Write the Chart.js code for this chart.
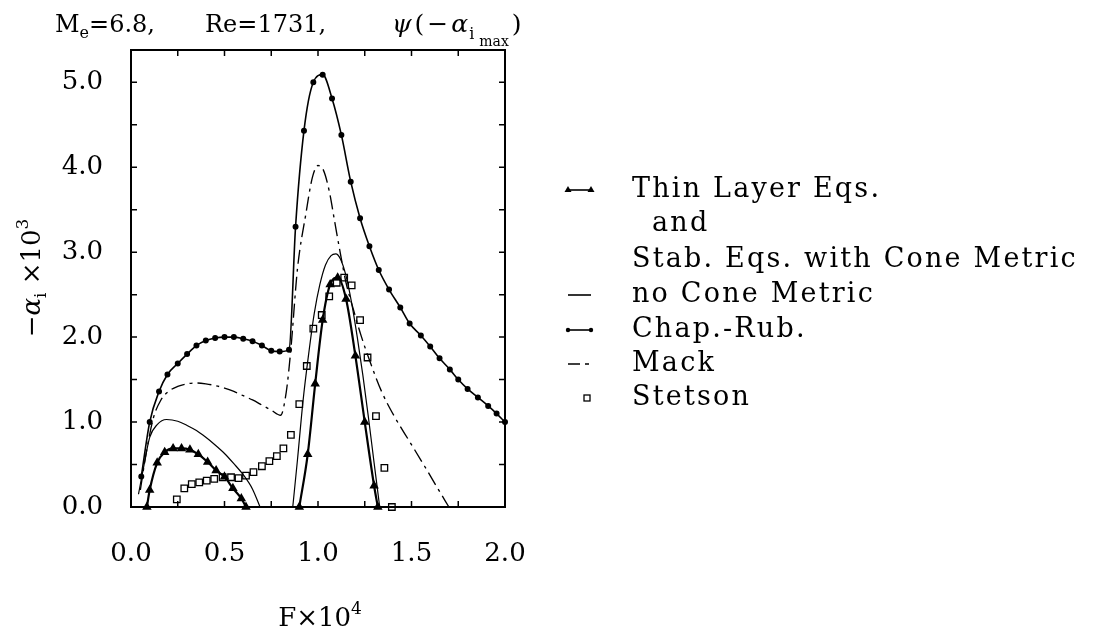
<!DOCTYPE html>
<html>
<head>
<meta charset="utf-8">
<title>Growth rate vs frequency</title>
<script src="https://cdn.jsdelivr.net/npm/chart.js@4/dist/chart.umd.min.js"></script>
<style>
  html, body { margin: 0; padding: 0; background: #fff; }
  #wrap { width: 1093px; height: 633px; }
</style>
</head>
<body>
<div id="wrap"><canvas id="growth" width="1093" height="633"></canvas></div>
<script>
// axis ticks
const xTicks = [0, 0.5, 1.0, 1.5, 2.0];
const yTicks = [0, 1, 2, 3, 4, 5];

// Thin layer eqs. (and stab. eqs. with cone metric), two branches
const thinLowF = [0.085, 0.10, 0.14, 0.18, 0.225, 0.27, 0.315, 0.36, 0.41, 0.455, 0.50, 0.545, 0.59, 0.615];
const thinLowA = [0.0, 0.20, 0.52, 0.645, 0.69, 0.69, 0.675, 0.62, 0.53, 0.43, 0.355, 0.22, 0.10, 0.0];
const thinHighF = [0.90, 0.945, 0.985, 1.025, 1.065, 1.105, 1.15, 1.20, 1.25, 1.30, 1.32];
const thinHighA = [0.0, 0.62, 1.45, 2.20, 2.62, 2.70, 2.45, 1.78, 1.00, 0.25, 0.0];

// no cone metric, two branches
const noConeLowF = [0.04, 0.07, 0.10, 0.14, 0.19, 0.25, 0.30, 0.35, 0.40, 0.45, 0.50, 0.55, 0.60, 0.65, 0.69];
const noConeLowA = [0.15, 0.50, 0.82, 0.97, 1.03, 1.01, 0.96, 0.90, 0.82, 0.73, 0.63, 0.51, 0.38, 0.21, 0.0];
const noConeHighF = [0.865, 0.89, 0.92, 0.95, 0.98, 1.01, 1.04, 1.07, 1.095, 1.12, 1.15, 1.18, 1.21, 1.24, 1.27, 1.30, 1.33];
const noConeHighA = [0.0, 0.55, 1.25, 1.80, 2.28, 2.62, 2.85, 2.96, 2.98, 2.92, 2.72, 2.40, 2.00, 1.55, 1.05, 0.52, 0.0];

// Chapman-Rubesin
const chapF = [0.055, 0.10, 0.15, 0.195, 0.25, 0.30, 0.35, 0.40, 0.45, 0.50, 0.55, 0.60, 0.65, 0.70, 0.75, 0.795, 0.845,
               0.88, 0.925, 0.975, 1.025, 1.075, 1.125, 1.175, 1.225, 1.275, 1.325, 1.38, 1.44, 1.49, 1.55, 1.60, 1.65,
               1.705, 1.75, 1.80, 1.855, 1.91, 1.955, 2.0];
const chapA = [0.36, 1.00, 1.36, 1.56, 1.69, 1.80, 1.90, 1.96, 1.99, 2.00, 2.00, 1.98, 1.95, 1.90, 1.84, 1.83, 1.85,
               3.30, 4.43, 5.00, 5.09, 4.81, 4.38, 3.83, 3.40, 3.07, 2.79, 2.56, 2.35, 2.16, 2.02, 1.89, 1.75,
               1.62, 1.50, 1.39, 1.29, 1.19, 1.10, 1.00];

// Mack
const mackF = [0.05, 0.08, 0.12, 0.16, 0.20, 0.25, 0.30, 0.35, 0.40, 0.45, 0.50, 0.55, 0.60, 0.65, 0.70, 0.75, 0.80,
               0.83, 0.855, 0.89, 0.935, 0.97, 1.00, 1.03, 1.06, 1.09, 1.12, 1.15, 1.19, 1.23, 1.28, 1.34, 1.41,
               1.49, 1.57, 1.64, 1.70];
const mackA = [0.20, 0.62, 1.05, 1.26, 1.36, 1.42, 1.45, 1.46, 1.45, 1.43, 1.40, 1.36, 1.31, 1.26, 1.20, 1.14, 1.08,
               1.35, 1.86, 2.80, 3.45, 3.88, 4.02, 3.96, 3.72, 3.35, 2.98, 2.64, 2.32, 2.02, 1.70, 1.36, 1.06,
               0.77, 0.48, 0.22, 0.0];

// Stetson
const stetF = [0.245, 0.285, 0.325, 0.365, 0.405, 0.445, 0.49, 0.535, 0.575, 0.615, 0.655, 0.70, 0.74, 0.78, 0.815,
               0.855, 0.90, 0.94, 0.975, 1.02, 1.06, 1.10, 1.14, 1.18, 1.225, 1.265, 1.31, 1.355, 1.395];
const stetA = [0.09, 0.22, 0.27, 0.29, 0.31, 0.33, 0.35, 0.35, 0.34, 0.37, 0.41, 0.48, 0.54, 0.60, 0.69,
               0.85, 1.21, 1.66, 2.10, 2.26, 2.48, 2.64, 2.70, 2.61, 2.20, 1.76, 1.07, 0.46, 0.0];

const FONT = '"DejaVu Serif", serif';
const pts = (fs, as) => fs.map((f, i) => ({ x: f, y: as[i] }));

function curve(label, fs, as, extra) {
  return Object.assign({
    label: label,
    data: pts(fs, as),
    showLine: true,
    borderColor: '#000',
    backgroundColor: '#000',
    borderWidth: 1.2,
    pointRadius: 0,
    cubicInterpolationMode: 'monotone',
    clip: false
  }, extra);
}

const thinStyle = { borderWidth: 2.2, pointStyle: 'triangle', pointRadius: 3.3 };
const chapStyle = { borderWidth: 1.6, pointStyle: 'circle', pointRadius: 2.2 };

const datasets = [
  curve('no Cone Metric', noConeLowF, noConeLowA, {}),
  curve('no Cone Metric', noConeHighF, noConeHighA, {}),
  curve('Mack', mackF, mackA, { borderWidth: 1.35, borderDash: [14, 5, 3, 5] }),
  curve('Thin Layer Eqs.', thinLowF, thinLowA, thinStyle),
  curve('Thin Layer Eqs.', thinHighF, thinHighA, thinStyle),
  curve('Chap.-Rub.', chapF, chapA, chapStyle),
  {
    label: 'Stetson',
    data: pts(stetF, stetA),
    showLine: false,
    pointStyle: 'rect',
    pointRadius: 4.6,
    borderWidth: 1.3,
    borderColor: '#000',
    backgroundColor: 'rgba(0,0,0,0)',
    clip: false
  }
];

// text drawn in runs so sub/superscripts can be offset
function runsWidth(ctx, runs) {
  let w = 0;
  for (const r of runs) {
    ctx.font = (r.style || '') + ' ' + r.size + 'px ' + FONT;
    w += ctx.measureText(r.text).width + (r.gap || 0);
  }
  return w;
}
function drawRuns(ctx, runs, x, y) {
  for (const r of runs) {
    ctx.font = (r.style || '') + ' ' + r.size + 'px ' + FONT;
    x += (r.gap || 0);
    ctx.fillText(r.text, x, y + (r.dy || 0));
    x += ctx.measureText(r.text).width;
  }
  return x;
}

const legendRows = [
  { y: 190, text: 'Thin Layer Eqs.', sym: 'tri' },
  { y: 224, text: 'and', x: 652 },
  { y: 260, text: 'Stab. Eqs. with Cone Metric' },
  { y: 295, text: 'no Cone Metric', sym: 'line' },
  { y: 330, text: 'Chap.-Rub.', sym: 'dot' },
  { y: 364, text: 'Mack', sym: 'dashdot' },
  { y: 398, text: 'Stetson', sym: 'square' }
];

const decorations = {
  id: 'decorations',
  afterDatasetsDraw(chart) {
    const { ctx, chartArea: a, scales } = chart;
    ctx.save();
    ctx.strokeStyle = '#000';
    ctx.lineWidth = 2;
    ctx.strokeRect(a.left, a.top, a.right - a.left, a.bottom - a.top);
    ctx.lineWidth = 1.5;
    ctx.beginPath();
    for (let v = 0.25; v < 2; v += 0.25) {
      const px = scales.x.getPixelForValue(v);
      ctx.moveTo(px, a.bottom); ctx.lineTo(px, a.bottom - 6);
      ctx.moveTo(px, a.top); ctx.lineTo(px, a.top + 6);
    }
    for (let v = 0.5; v <= 5; v += 0.5) {
      const py = scales.y.getPixelForValue(v);
      ctx.moveTo(a.left, py); ctx.lineTo(a.left + 6, py);
      ctx.moveTo(a.right, py); ctx.lineTo(a.right - 6, py);
    }
    ctx.stroke();
    ctx.restore();
  },
  afterDraw(chart) {
    const { ctx } = chart;
    ctx.save();
    ctx.fillStyle = '#000';
    ctx.strokeStyle = '#000';
    ctx.textBaseline = 'alphabetic';
    ctx.textAlign = 'left';

    // heading
    drawRuns(ctx, [
      { text: 'M', size: 24 }, { text: 'e', size: 16, dy: 6 }, { text: '=6.8,', size: 24 }
    ], 55, 32);
    drawRuns(ctx, [{ text: 'Re=1731,', size: 24 }], 205, 32);
    drawRuns(ctx, [
      { text: 'ψ', size: 25, style: 'italic' }, { text: '(', size: 25, gap: 3 }, { text: '−', size: 25, gap: 3 },
      { text: 'α', size: 25, style: 'italic', gap: 3 }, { text: 'i', size: 16, dy: 7, gap: 1 },
      { text: 'max', size: 14, dy: 14, gap: 5 }, { text: ')', size: 25, gap: 3 }
    ], 392, 32);

    // x axis title
    const xt = [{ text: 'F×10', size: 26 }, { text: '4', size: 17, dy: -12 }];
    drawRuns(ctx, xt, 320 - runsWidth(ctx, xt) / 2, 626);

    // y axis title, rotated
    const yt = [
      { text: '−', size: 26 }, { text: 'α', size: 26, style: 'italic' },
      { text: 'i', size: 17, dy: 6 }, { text: ' ×10', size: 26 }, { text: '3', size: 17, dy: -12 }
    ];
    ctx.translate(40, 278);
    ctx.rotate(-Math.PI / 2);
    drawRuns(ctx, yt, -runsWidth(ctx, yt) / 2, 0);
    ctx.setTransform(1, 0, 0, 1, 0, 0);

    // legend
    ctx.textBaseline = 'middle';
    ctx.lineWidth = 1.6;
    for (const row of legendRows) {
      ctx.font = '27px ' + FONT;
      ctx.letterSpacing = '2.2px';
      ctx.fillText(row.text, row.x || 632, row.y);
      ctx.letterSpacing = '0px';
      const y = row.y, x0 = 568, x1 = 591;
      if (row.sym === 'tri' || row.sym === 'line' || row.sym === 'dot') {
        ctx.beginPath(); ctx.moveTo(x0, y); ctx.lineTo(x1, y); ctx.stroke();
      }
      if (row.sym === 'tri') {
        for (const px of [x0, x1]) {
          ctx.beginPath();
          ctx.moveTo(px, y - 4); ctx.lineTo(px + 3.5, y + 2); ctx.lineTo(px - 3.5, y + 2);
          ctx.closePath(); ctx.fill();
        }
      }
      if (row.sym === 'dot') {
        for (const px of [x0, x1]) {
          ctx.beginPath(); ctx.arc(px, y, 2.2, 0, Math.PI * 2); ctx.fill();
        }
      }
      if (row.sym === 'dashdot') {
        ctx.lineWidth = 1.3;
        ctx.beginPath(); ctx.moveTo(x0, y); ctx.lineTo(x0 + 12, y);
        ctx.moveTo(x0 + 17, y); ctx.lineTo(x0 + 21, y); ctx.stroke();
        ctx.lineWidth = 1.6;
      }
      if (row.sym === 'square') {
        ctx.lineWidth = 1.3;
        ctx.strokeRect(x1 - 7, y - 3, 6, 6);
        ctx.lineWidth = 1.6;
      }
    }
    ctx.restore();
  }
};

Chart.defaults.font.family = FONT;
Chart.defaults.color = '#000';

new Chart(document.getElementById('growth'), {
  type: 'scatter',
  data: { datasets: datasets },
  options: {
    responsive: false,
    animation: false,
    devicePixelRatio: 1,
    layout: { padding: { left: 0, top: 50, right: 588, bottom: 0 } },
    plugins: {
      legend: { display: false },
      title: { display: false },
      tooltip: { enabled: false }
    },
    scales: {
      x: {
        type: 'linear', min: 0, max: 2,
        grid: { display: false },
        border: { display: false },
        afterBuildTicks: s => { s.ticks = xTicks.map(v => ({ value: v })); },
        afterFit: s => { s.height = 126; },
        ticks: { padding: 24, font: { size: 26 }, callback: v => Number(v).toFixed(1), maxRotation: 0 }
      },
      y: {
        type: 'linear', min: 0, max: 5.38,
        grid: { display: false },
        border: { display: false },
        afterBuildTicks: s => { s.ticks = yTicks.map(v => ({ value: v })); },
        afterFit: s => { s.width = 131; },
        ticks: { padding: 20, font: { size: 26 }, callback: v => Number(v).toFixed(1) }
      }
    }
  },
  plugins: [decorations]
});
</script>
</body>
</html>
